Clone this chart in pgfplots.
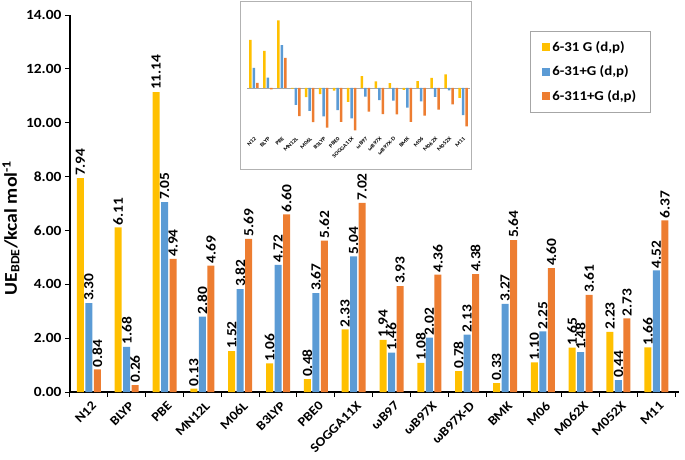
\documentclass[border=0pt]{standalone}
\usepackage{pgfplots}
\usepackage{pgfplotstable}
\pgfplotsset{compat=1.18}
\usepackage{fontspec}
\setmainfont{Carlito}[FakeStretch=1.1]
\definecolor{cy}{HTML}{FFC000}
\definecolor{cb}{HTML}{5B9BD5}
\definecolor{co}{HTML}{ED7D31}
\pgfkeys{/pgf/number format/assume math mode=true}

\pgfplotstableread{
x a b c
0 7.94 3.30 0.84
1 6.11 1.68 0.26
2 11.14 7.05 4.94
3 0.13 2.80 4.69
4 1.52 3.82 5.69
5 1.06 4.72 6.60
6 0.48 3.67 5.62
7 2.33 5.04 7.02
8 1.94 1.46 3.93
9 1.08 2.02 4.36
10 0.78 2.13 4.38
11 0.33 3.27 5.64
12 1.10 2.25 4.60
13 1.65 1.48 3.61
14 2.23 0.44 2.73
15 1.66 4.52 6.37
}\maindata

\pgfplotstableread{
x a b c
0 7.94 3.30 0.84
1 6.11 1.68 -0.26
2 11.14 7.05 4.94
3 -0.13 -2.80 -4.69
4 -1.52 -3.82 -5.69
5 -1.06 -4.72 -6.60
6 -0.48 -3.67 -5.62
7 -2.33 -5.04 -7.02
8 1.94 -1.46 -3.93
9 1.08 -2.02 -4.36
10 0.78 -2.13 -4.38
11 -0.33 -3.27 -5.64
12 1.10 -2.25 -4.60
13 1.65 -1.48 -3.61
14 2.23 -0.44 -2.73
15 -1.66 -4.52 -6.37
}\insetdata

\newcommand{\cats}{N12,BLYP,PBE,MN12L,M06L,B3LYP,PBE0,SOGGA11X,ωB97,ωB97X,ωB97X-D,BMK,M06,M062X,M052X,M11}

\begin{document}
\begin{tikzpicture}
\useasboundingbox (0pt,0pt) rectangle (685pt,459pt);
\begin{axis}[
  at={(70pt,67pt)}, anchor=south west,
  scale only axis, width=609pt, height=377pt,
  ybar=1.5pt, bar width=7pt,
  xmin=-0.5, xmax=15.6, ymin=0, ymax=14,
  axis x line*=bottom, axis y line*=left,
  axis line style={black, line width=1.1pt},
  tick align=outside,
  major tick length=5pt, minor tick length=5pt,
  ytick={0,2,...,14},
  ytick style={black, line width=1pt},
  yticklabel={\pgfmathprintnumber[fixed,zerofill,precision=2]{\tick}},
  y tick label style={font=\fontsize{14}{16}\selectfont\bfseries},
  xtick={0,...,15},
  xticklabels/.expanded={\cats},
  major x tick style={draw=none},
  minor xtick={-0.5,0.5,...,15.5},
  minor x tick style={black, line width=1pt},
  x tick label style={rotate=45, anchor=north east, font=\fontsize{13}{15}\selectfont\bfseries, inner sep=1pt, yshift=-3pt},
  ylabel={UE\textsubscript{BDE}/kcal mol\textsuperscript{-1}},
  ylabel style={at={(axis description cs:-0.097,0.435)}, anchor=center, font=\fontsize{18}{20}\selectfont\bfseries},
  nodes near coords={\pgfmathprintnumber[fixed,zerofill,precision=2]{\pgfplotspointmeta}},
  every node near coord/.append style={rotate=90, anchor=west, font=\fontsize{14}{16}\selectfont\bfseries, inner sep=2pt, black},
  clip=false,
  legend style={at={(0.7553,0.9576)}, anchor=north west, draw=gray!70, line width=0.8pt,
    font=\fontsize{13.5}{15}\selectfont\bfseries, row sep=9pt, inner xsep=12pt, inner ysep=8pt,
    cells={anchor=west}},
  legend image code/.code={\fill[#1] (0pt,-4pt) rectangle (8pt,4pt);},
]
\addplot[fill=cy, draw=none] table[x=x,y=a]{\maindata};
\addplot[fill=cb, draw=none] table[x=x,y=b]{\maindata};
\addplot[fill=co, draw=none] table[x=x,y=c]{\maindata};
\legend{{6-31 G (d,p)}, {6-31+G (d,p)}, {6-311+G (d,p)}}
\end{axis}

\draw[gray!60, line width=1pt, fill=white] (240pt,290pt) rectangle (471pt,457pt);

\begin{axis}[
  at={(247pt,324pt)}, anchor=south west,
  scale only axis, width=223pt, height=127pt,
  ybar=1pt, bar width=2.5pt,
  xmin=-0.5, xmax=15.5, ymin=-7.8, ymax=13.2,
  axis line style={draw=none},
  ytick=\empty,
  xtick={0,...,15},
  xticklabels/.expanded={\cats},
  major tick length=0pt,
  x tick label style={rotate=45, anchor=north east, font=\fontsize{5.5}{6.5}\selectfont\bfseries, inner sep=1pt},
  extra y ticks={0}, extra y tick labels={},
  extra y tick style={grid=major, major grid style={gray!70, line width=0.6pt}},
  clip=false,
]
\addplot[fill=cy, draw=none] table[x=x,y=a]{\insetdata};
\addplot[fill=cb, draw=none] table[x=x,y=b]{\insetdata};
\addplot[fill=co, draw=none] table[x=x,y=c]{\insetdata};
\end{axis}
\end{tikzpicture}
\end{document}
